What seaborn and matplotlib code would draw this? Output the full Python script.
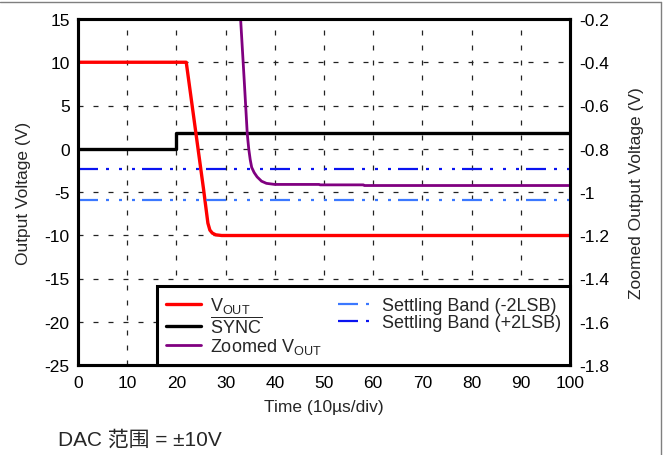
import matplotlib
matplotlib.use("Agg")
import matplotlib.pyplot as plt
from matplotlib.lines import Line2D
import seaborn as sns

# ---- data -------------------------------------------------------------
# output voltage (left axis, V) vs time (10 us/div)
vout_time = [0, 22.0, 25.5, 26.4, 26.8, 27.3, 28.0, 29.2, 100]
vout_volt = [10, 10, -4.6, -8.6, -9.4, -9.75, -9.95, -10.03, -10.03]

# SYNC logic signal (left axis, V)
sync_time = [0, 20, 20, 100]
sync_volt = [0, 0, 1.8, 1.8]

# zoomed output voltage (right axis, V)
zoom_time = [32.8, 33.05, 33.8, 34.4, 34.7, 35.0, 35.3, 35.8, 36.4, 37.3,
             38.3, 40.0, 49.0, 49.2, 58.0, 58.2, 100]
zoom_volt = [-0.10, -0.20, -0.49, -0.73, -0.80, -0.85, -0.886, -0.91, -0.93,
             -0.95, -0.96, -0.965, -0.965, -0.967, -0.967, -0.970, -0.970]

# settling band limits (right axis, V)
band_time = [0, 100]
band_minus = [-1.035, -1.035]
band_plus = [-0.895, -0.895]

x_ticks = [0, 10, 20, 30, 40, 50, 60, 70, 80, 90, 100]
left_ticks = [15, 10, 5, 0, -5, -10, -15, -20, -25]
right_ticks = [-0.2, -0.4, -0.6, -0.8, -1.0, -1.2, -1.4, -1.6, -1.8]
right_tick_labels = ["-0.2", "-0.4", "-0.6", "-0.8", "-1", "-1.2", "-1.4", "-1.6", "-1.8"]

# ---- style ------------------------------------------------------------
sns.set_style("white")
plt.rcParams["font.family"] = ["Liberation Sans", "Noto Sans CJK SC", "DejaVu Sans"]
plt.rcParams["mathtext.fontset"] = "custom"
plt.rcParams["mathtext.rm"] = "Liberation Sans"
plt.rcParams["mathtext.it"] = "Liberation Sans:italic"
plt.rcParams["mathtext.bf"] = "Liberation Sans:bold"
plt.rcParams["axes.unicode_minus"] = False

W, H = 664, 456
fig = plt.figure(figsize=(W / 100, H / 100), dpi=100)
ax = fig.add_axes([78 / W, 1 - 366 / H, (570 - 78) / W, (366 - 20) / H])
ax2 = ax.twinx()

# long dash followed by three dots
band_ls = (0, (9.0, 3.6, 1.35, 4.5, 1.35, 4.5, 1.35, 3.15))

sns.lineplot(x=sync_time, y=sync_volt, ax=ax, color="black", lw=2.4,
             sort=False, estimator=None, legend=False)
sns.lineplot(x=vout_time, y=vout_volt, ax=ax, color="#ff0000", lw=2.4,
             sort=False, estimator=None, legend=False)
sns.lineplot(x=zoom_time, y=zoom_volt, ax=ax2, color="#800080", lw=2.0,
             sort=False, estimator=None, legend=False)
sns.lineplot(x=band_time, y=band_minus, ax=ax2, color="#3b78ff", lw=1.6,
             linestyle=band_ls, sort=False, estimator=None, legend=False)
sns.lineplot(x=band_time, y=band_plus, ax=ax2, color="#0a14f0", lw=1.6,
             linestyle=band_ls, sort=False, estimator=None, legend=False)

ax.set_xlim(0, 100)
ax.set_ylim(-25, 15)
ax2.set_ylim(-1.8, -0.2)
ax.set_xticks(x_ticks)
ax.set_yticks(left_ticks)
ax2.set_yticks(right_ticks)
ax2.set_yticklabels(right_tick_labels)

ax.grid(True, color="#222222", lw=0.9, linestyle=(0, (4, 8)))
ax2.grid(False)

for a in (ax, ax2):
    for s in a.spines.values():
        s.set_linewidth(2.2)
        s.set_color("black")
    a.tick_params(length=0, labelsize=12.5, colors="black")
ax.tick_params(axis="y", pad=6)
ax.tick_params(axis="x", pad=7)
ax2.tick_params(axis="y", pad=7)

ax.set_xlabel("Time (10\u00b5s/div)", fontsize=12.5, labelpad=7)
ax.set_ylabel("Output Voltage (V)", fontsize=12.5, labelpad=10)
ax2.set_ylabel("Zoomed Output Voltage (V)", fontsize=12.5, labelpad=14)

# legend: left column VOUT/SYNC/Zoomed, right column settling bands
h_s, h_v = ax.get_lines()[:2]
l2 = ax2.get_lines()
handles = [h_v, h_s, l2[0], l2[1], l2[2]]
labels = [r"V$_{\mathrm{OUT}}$", r"$\overline{\mathrm{SYNC}}$", r"Zoomed V$_{\mathrm{OUT}}$",
          "Settling Band (-2LSB)", "Settling Band (+2LSB)"]
leg = ax2.legend(handles, labels, ncol=2, loc="lower left", mode="expand",
                 bbox_to_anchor=(79 / 492, 0, 413 / 492, 0.237),
                 fontsize=13, frameon=True, fancybox=False, borderaxespad=0,
                 handlelength=1.95, handletextpad=0.5, labelspacing=0.0,
                 borderpad=0.5, columnspacing=1.0)
fr = leg.get_frame()
fr.set_edgecolor("black")
fr.set_linewidth(2.2)
fr.set_facecolor("white")
fr.set_alpha(1)

fig.text(58 / W, 1 - 440 / H, "DAC 范围 = ±10V", fontsize=15, va="center", ha="left",
         family=["Liberation Sans", "Noto Sans CJK SC"])

# frame lines along the top and right edges
fig.add_artist(Line2D([0, 660.5 / W], [1 - 3 / H, 1 - 3 / H], transform=fig.transFigure,
                      color="#7f7f7f", lw=1.0))
fig.add_artist(Line2D([660.5 / W, 660.5 / W], [0, 1 - 3 / H], transform=fig.transFigure,
                      color="#7f7f7f", lw=1.0))

fig.savefig("out.png", dpi=100)
